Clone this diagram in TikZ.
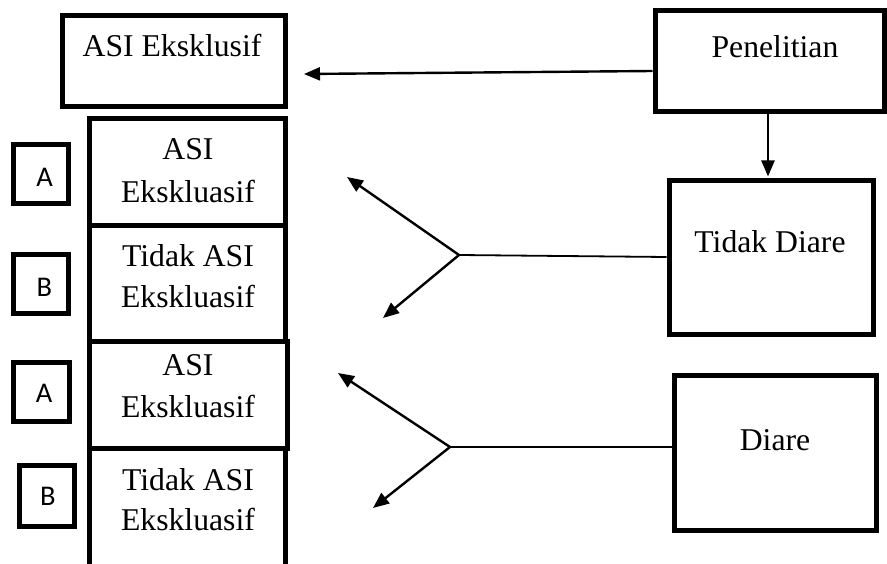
\documentclass[tikz,border=0pt]{standalone}
\usepackage{fontspec}
\setmainfont{Liberation Serif}
\newfontfamily\calib{Carlito}
\usetikzlibrary{arrows.meta}
\begin{document}
\begin{tikzpicture}[x=1pt,y=-1pt,
  bigbox/.style={draw, line width=5pt, inner sep=0pt, line join=miter},
  smallbox/.style={draw, line width=5pt, inner sep=0pt, minimum width=55pt, minimum height=59pt},
  txt/.style={anchor=base, inner sep=0pt, font=\fontsize{31.7}{42}\selectfont},
  lett/.style={anchor=base, inner sep=0pt, font=\calib\fontsize{28.5}{34}\selectfont},
  arr/.style={line width=2.4pt, -{Triangle[length=16pt,width=13pt]}},
  conn/.style={line width=1.8pt}]
\useasboundingbox (0,0) rectangle (887,564);

% top boxes
\node[bigbox, minimum width=223pt, minimum height=91pt] (asiek) at (173.5,61.5) {};
\node[txt] (asiekt) at (172,57) {ASI Eksklusif};
\node[bigbox, minimum width=229pt, minimum height=101pt] (pen) at (769.5,61.5) {};
\node[txt] (pent) at (775,58) {Penelitian};

% right boxes
\node[bigbox, minimum width=204pt, minimum height=154pt] (tdiare) at (771,258) {};
\node[txt] (tdiaret) at (770,253) {Tidak Diare};
\node[bigbox, minimum width=202pt, minimum height=155pt] (diare) at (775,452.5) {};
\node[txt] (diaret) at (775,450) {Diare};

% left stacked boxes
\node[bigbox, minimum width=196pt, minimum height=107pt] (g1) at (187,172.5) {};
\node[txt] (g1a) at (188,160) {ASI};
\node[txt] (g1b) at (188,203) {Ekskluasif};
\node[bigbox, minimum width=196pt, minimum height=116pt] (g2) at (187,284) {};
\node[txt] (g2a) at (188,267) {Tidak ASI};
\node[txt] (g2b) at (188,308) {Ekskluasif};
\node[bigbox, minimum width=198pt, minimum height=106pt] (g3) at (188,395) {};
\node[txt] (g3a) at (188,375) {ASI};
\node[txt] (g3b) at (188,417) {Ekskluasif};
\node[bigbox, minimum width=196pt, minimum height=124pt] (g4) at (187,510) {};
\node[txt] (g4a) at (188,490) {Tidak ASI};
\node[txt] (g4b) at (188,530) {Ekskluasif};

% small letter boxes
\node[smallbox] (a1) at (40.5,174.5) {};
\node[lett] (a1t) at (44.5,187) {A};
\node[smallbox] (b1) at (40.5,284.5) {};
\node[lett] (b1t) at (44.5,297) {B};
\node[smallbox, minimum width=56pt] (a2) at (41,391.5) {};
\node[lett] (a2t) at (44,402) {A};
\node[smallbox, minimum height=61pt] (b2) at (46.5,495.5) {};
\node[lett] (b2t) at (48,505) {B};

% coordinates
\coordinate (tip0) at (304,74);
\coordinate (v1) at (459,255);
\coordinate (u1) at (347,177);
\coordinate (l1) at (383,318);
\coordinate (v2) at (450,447);
\coordinate (u2) at (338,373);
\coordinate (l2) at (373,508);

% connectors
\draw[arr] ([yshift=-9.5pt]pen.west) -- (tip0);
\draw[arr] ([xshift=-1.5pt]pen.south) -- ([xshift=-3pt,yshift=2pt]tdiare.north);
\draw[conn] ([yshift=1pt]tdiare.west) -- (v1);
\draw[arr] (v1) -- (u1);
\draw[arr] (v1) -- (l1);
\draw[conn] ([yshift=5.5pt]diare.west) -- (v2);
\draw[arr] (v2) -- (u2);
\draw[arr] (v2) -- (l2);
\end{tikzpicture}
\end{document}
